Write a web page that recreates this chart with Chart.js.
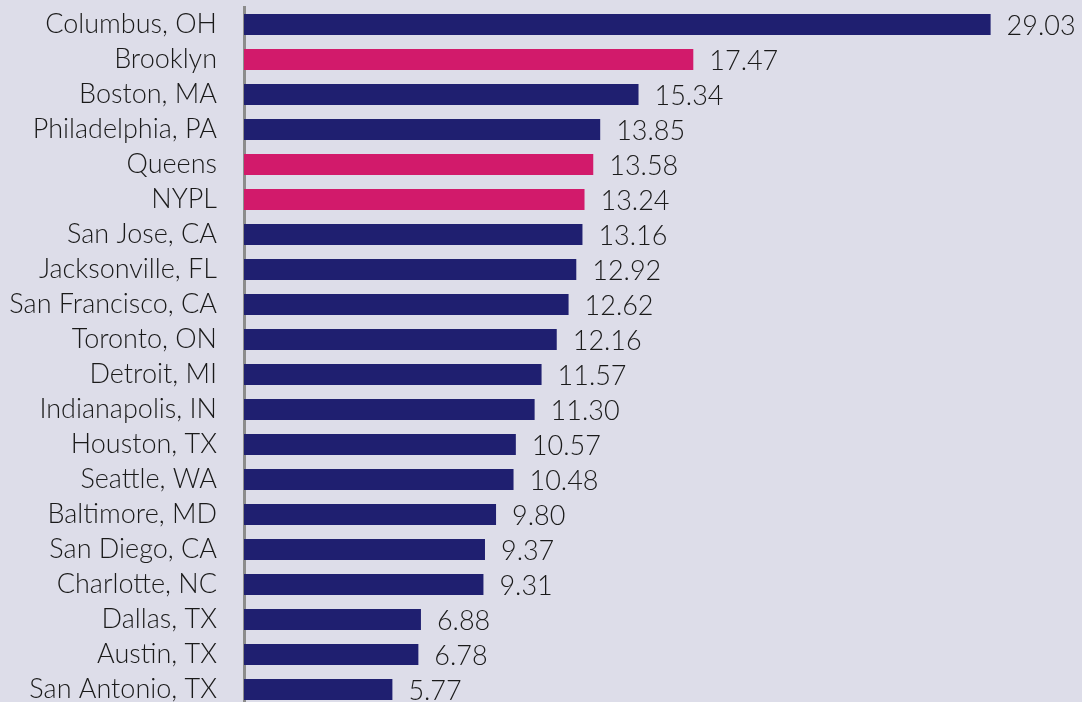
<!DOCTYPE html>
<html>
<head>
<meta charset="utf-8">
<script src="https://cdn.jsdelivr.net/npm/chart.js@4/dist/chart.umd.min.js"></script>
<style>
  html, body { margin: 0; padding: 0; background: #dddde9; overflow: hidden; }
  #wrap { position: relative; width: 1082px; height: 707px; }
</style>
</head>
<body>
<div id="wrap"><canvas id="c"></canvas></div>
<script>
const categories = ["Columbus, OH", "Brooklyn", "Boston, MA", "Philadelphia, PA", "Queens", "NYPL", "San Jose, CA", "Jacksonville, FL", "San Francisco, CA", "Toronto, ON", "Detroit, MI", "Indianapolis, IN", "Houston, TX", "Seattle, WA", "Baltimore, MD", "San Diego, CA", "Charlotte, NC", "Dallas, TX", "Austin, TX", "San Antonio, TX"];
const values = [29.03, 17.47, 15.34, 13.85, 13.58, 13.24, 13.16, 12.92, 12.62, 12.16, 11.57, 11.30, 10.57, 10.48, 9.80, 9.37, 9.31, 6.88, 6.78, 5.77];
const highlighted = ["Brooklyn", "Queens", "NYPL"];

const NAVY = "#1f1f70";
const PINK = "#d21a6b";
const FONT = "Lato, 'Open Sans', sans-serif";

const valueLabels = {
  id: "valueLabels",
  afterDatasetsDraw(chart) {
    const ctx = chart.ctx;
    const meta = chart.getDatasetMeta(0);
    ctx.save();
    ctx.font = "300 27px " + FONT;
    ctx.fillStyle = "#1a1a1a";
    ctx.textAlign = "left";
    ctx.textBaseline = "middle";
    meta.data.forEach((el, i) => {
      ctx.fillText(values[i].toFixed(2), el.x + 16, el.y + 2);
    });
    ctx.restore();
  }
};

new Chart(document.getElementById("c"), {
  type: "bar",
  data: {
    labels: categories,
    datasets: [{
      data: values,
      backgroundColor: categories.map(c => highlighted.includes(c) ? PINK : NAVY),
      barPercentage: 0.6,
      categoryPercentage: 1.0
    }]
  },
  options: {
    indexAxis: "y",
    responsive: true,
    maintainAspectRatio: false,
    animation: false,
    layout: { padding: { left: 0, right: 15, top: 7, bottom: 0 } },
    plugins: { legend: { display: false }, tooltip: { enabled: false } },
    scales: {
      x: { display: false, min: 0, max: 32 },
      y: {
        z: 1,
        afterFit(scale) { scale.width = 244; scale.paddingTop = 0; scale.paddingBottom = 0; },
        grid: { display: false, drawTicks: false },
        border: { display: true, color: "#8c8c8c", width: 3 },
        ticks: { autoSkip: false, padding: 27, color: "#1a1a1a", font: { family: FONT, size: 27, weight: 300 } }
      }
    }
  },
  plugins: [valueLabels]
});
</script>
</body>
</html>
